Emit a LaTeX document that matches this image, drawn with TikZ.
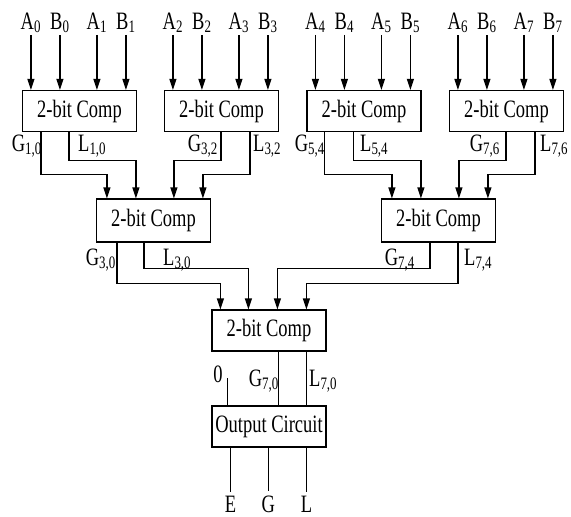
\documentclass[tikz,border=0pt]{standalone}
\usepackage{fontspec}
\setmainfont{Liberation Serif}[FakeStretch=0.74]
\usetikzlibrary{arrows.meta}
\tikzset{
  x=1pt, y=-1pt,
  every node/.style={font=\fontsize{25}{25}\selectfont},
  box/.style={draw, line width=1.2pt, minimum width=114pt, minimum height=41pt, inner sep=0pt},
  wire/.style={line width=1.2pt},
  arr/.style={wire, -{Triangle[length=11pt,width=7pt]}},
  lab/.style={inner sep=0pt, anchor=base},
  inlab/.style={inner sep=2pt, anchor=base},
  outlab/.style={inner sep=0pt, outer sep=4pt, anchor=base},
  bl/.style={inner sep=0pt, anchor=base west},
  br/.style={inner sep=0pt, anchor=base east},
}
\newcommand{\sub}[2]{#1\textsubscript{#2}}
\begin{document}
\begin{tikzpicture}
\useasboundingbox (0,0) rectangle (571,517);
% top boxes
\node[box] (c1) at (79.5,111) {2-bit Comp};
\node[box] (c2) at (221.5,111) {2-bit Comp};
\node[box] (c3) at (364,111) {2-bit Comp};
\node[box] (c4) at (506.5,111) {2-bit Comp};
% middle
\node[box, minimum height=43pt] (m1) at (153.5,220.5) {2-bit Comp};
\node[box, minimum height=43pt] (m2) at (438.5,220.5) {2-bit Comp};
% bottom
\node[box] (b) at (269,330.5) {2-bit Comp};
\node[box] (o) at (269,426.5) {Output Circuit};

% input labels
\foreach \bx/\i/\j [count=\k from 0] in {c1/0/1, c2/2/3, c3/4/5, c4/6/7} {
  \path (\bx.north west) ++(9,0) coordinate (p1) ++(29,0) coordinate (p2) ++(37,0) coordinate (p3) ++(29,0) coordinate (p4);
  \node[inlab] (A\i) at (p1 |- 0,29) {\sub{A}{\i}};
  \node[inlab] (B\i) at (p2 |- 0,29) {\sub{B}{\i}};
  \node[inlab] (A\j) at (p3 |- 0,29) {\sub{A}{\j}};
  \node[inlab] (B\j) at (p4 |- 0,29) {\sub{B}{\j}};
  \draw[arr] (A\i.south) -- (A\i.south |- \bx.north);
  \draw[arr] (B\i.south) -- (B\i.south |- \bx.north);
  \draw[arr] (A\j.south) -- (A\j.south |- \bx.north);
  \draw[arr] (B\j.south) -- (B\j.south |- \bx.north);
}

% input points of middle boxes
\foreach \m in {m1,m2} {
  \coordinate (\m i1) at ([xshift=11pt]\m.north west);
  \coordinate (\m i2) at ([xshift=40pt]\m.north west);
  \coordinate (\m i3) at ([xshift=78pt]\m.north west);
  \coordinate (\m i4) at ([xshift=107pt]\m.north west);
}
% level 1 -> level 2
\draw[arr] ([xshift=19pt]c1.south west) -- ++(0,42) -| (m1i1);
\draw[arr] ([xshift=47pt]c1.south west) -- ++(0,28) -| (m1i2);
\draw[arr] ([xshift=57pt]c2.south west) -- ++(0,28) -| (m1i3);
\draw[arr] ([xshift=86pt]c2.south west) -- ++(0,42) -| (m1i4);
\draw[arr] ([xshift=18pt]c3.south west) -- ++(0,42) -| (m2i1);
\draw[arr] ([xshift=47pt]c3.south west) -- ++(0,28) -| (m2i2);
\draw[arr] ([xshift=57pt]c4.south west) -- ++(0,28) -| (m2i3);
\draw[arr] ([xshift=86pt]c4.south west) -- ++(0,42) -| (m2i4);

\node[br] (g10) at (42,151) {\sub{G}{1,0}};
\node[bl] (l10) at (78,151) {\sub{L}{1,0}};
\node[br] (g32) at (218,151) {\sub{G}{3,2}};
\node[bl] (l32) at (253,151) {\sub{L}{3,2}};
\node[br] (g54) at (325,151) {\sub{G}{5,4}};
\node[bl] (l54) at (360,151) {\sub{L}{5,4}};
\node[br] (g76) at (500,151) {\sub{G}{7,6}};
\node[bl] (l76) at (540,151) {\sub{L}{7,6}};

% level 2 -> level 3
\coordinate (bi1) at ([xshift=9pt]b.north west);
\coordinate (bi2) at ([xshift=37pt]b.north west);
\coordinate (bi3) at ([xshift=66pt]b.north west);
\coordinate (bi4) at ([xshift=95pt]b.north west);
\draw[arr] ([xshift=21pt]m1.south west) -- ++(0,41) -| (bi1);
\draw[arr] ([xshift=48pt]m1.south west) -- ++(0,26) -| (bi2);
\draw[arr] ([xshift=49pt]m2.south west) -- ++(0,26) -| (bi3);
\draw[arr] ([xshift=77pt]m2.south west) -- ++(0,41) -| (bi4);

\node[br] (g30) at (116,265) {\sub{G}{3,0}};
\node[bl] (l30) at (163,265) {\sub{L}{3,0}};
\node[br] (g74) at (415,265) {\sub{G}{7,4}};
\node[bl] (l74) at (464,265) {\sub{L}{7,4}};

% level 3 -> output circuit
\draw[wire] ([xshift=67pt]b.south west) -- ([xshift=67pt]o.north west);
\draw[wire] ([xshift=95pt]b.south west) -- ([xshift=95pt]o.north west);
\coordinate (zt) at ([xshift=16pt]o.north west |- 0,378);
\draw[wire] (zt) -- (zt |- o.north);
\node[lab] (zero) at (218,382) {0};
\node[br] (g70) at (279,386) {\sub{G}{7,0}};
\node[bl] (l70) at (309,386) {\sub{L}{7,0}};

% outputs
\node[outlab] (E) at ([xshift=19pt]o.south west |- 0,512) {E};
\node[outlab] (G) at ([xshift=57pt]o.south west |- 0,512) {G};
\node[outlab] (L) at ([xshift=95pt]o.south west |- 0,512) {L};
\draw[wire] (E |- o.south) -- (E.north);
\draw[wire] (G |- o.south) -- (G.north);
\draw[wire] (L |- o.south) -- (L.north);
\end{tikzpicture}
\end{document}
